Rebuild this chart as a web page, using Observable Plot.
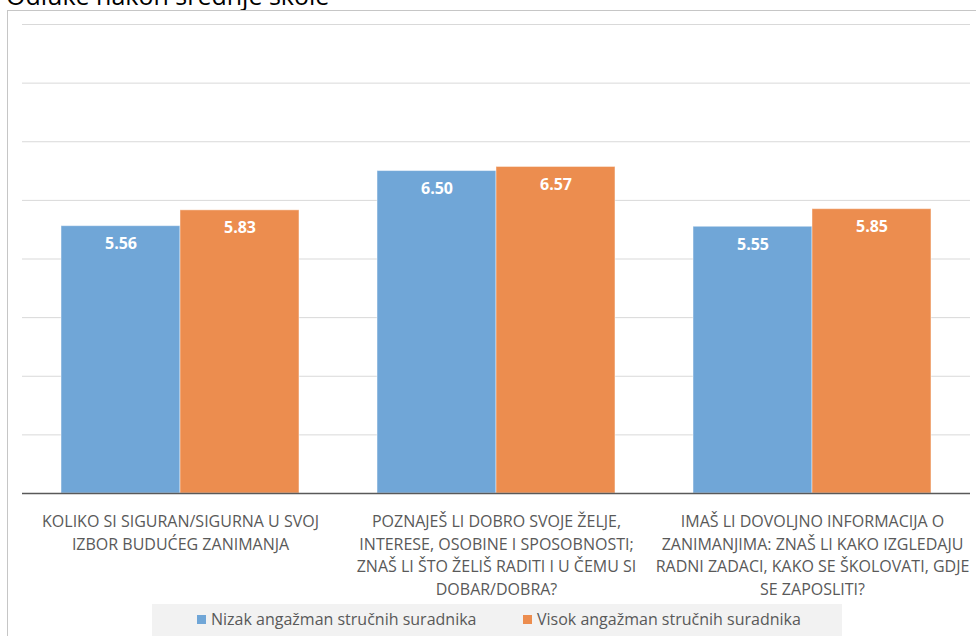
<!DOCTYPE html>
<html><head><meta charset="utf-8">
<script src="https://cdn.jsdelivr.net/npm/d3@7"></script>
<script src="https://cdn.jsdelivr.net/npm/@observablehq/plot@0.6"></script>
<style>
html,body{margin:0;padding:0;background:#fff;width:976px;height:636px;overflow:hidden;position:relative;font-family:"Open Sans",sans-serif;}
#title{position:absolute;left:6px;top:-22px;font-size:25px;line-height:34px;color:#000;white-space:nowrap;}
#chart{position:absolute;left:0;top:0;}
#frame{position:absolute;left:7px;top:10px;width:1000px;height:700px;border-left:1px solid #c6c6c6;border-top:1px solid #c6c6c6;pointer-events:none;}
#legend{position:absolute;left:152px;top:604px;width:690px;height:40px;background:#f2f2f2;}
#legend .sw{position:absolute;top:11px;width:9px;height:9px;}
#legend .lb{position:absolute;top:5px;font-size:16px;line-height:20px;color:#595959;white-space:nowrap;}
</style></head>
<body>
<div id="chart"></div>
<div id="title">Odluke nakon srednje škole</div>
<div id="frame"></div>
<div id="legend"></div>
<script>
const categories = ["kat1", "kat2", "kat3"];
const categoryLabels = [
  "KOLIKO SI SIGURAN/SIGURNA U SVOJ\nIZBOR BUDUĆEG ZANIMANJA",
  "POZNAJEŠ LI DOBRO SVOJE ŽELJE,\nINTERESE, OSOBINE I SPOSOBNOSTI;\nZNAŠ LI ŠTO ŽELIŠ RADITI I U ČEMU SI\nDOBAR/DOBRA?",
  "IMAŠ LI DOVOLJNO INFORMACIJA O\nZANIMANJIMA: ZNAŠ LI KAKO IZGLEDAJU\nRADNI ZADACI, KAKO SE ŠKOLOVATI, GDJE\nSE ZAPOSLITI?"
];
const series = ["Nizak angažman stručnih suradnika", "Visok angažman stručnih suradnika"];
const nizak = [5.56, 6.50, 5.55];
const visok = [5.83, 6.57, 5.85];
const colors = ["#70a6d7", "#ec8d4f"];
const yDomain = [1, 9];
const gridTicks = [2, 3, 4, 5, 6, 7, 8, 9];

const rows = [];
categories.forEach((c, i) => {
  rows.push({category: c, series: series[0], value: nizak[i]});
  rows.push({category: c, series: series[1], value: visok[i]});
});
const labelRows = categories.map((c, i) => ({category: c, label: categoryLabels[i]}));

const chart = Plot.plot({
  width: 976,
  height: 600,
  marginLeft: 22,
  marginRight: 6,
  marginTop: 24,
  marginBottom: 107,
  style: {fontFamily: "Open Sans", background: "transparent"},
  fx: {domain: categories, padding: 0, axis: null, round: false},
  x: {domain: series, paddingInner: 0, paddingOuter: 0.328, axis: null, round: false},
  y: {domain: yDomain, axis: null},
  color: {domain: series, range: colors},
  marks: [
    Plot.gridY(gridTicks, {stroke: "#d9d9d9", strokeOpacity: 1, strokeWidth: 1}),
    Plot.barY(rows, {fx: "category", x: "series", y1: yDomain[0], y2: "value", fill: "series", stroke: "white", strokeOpacity: 0.45, strokeWidth: 1}),
    Plot.ruleY([yDomain[0]], {stroke: "#595959", strokeWidth: 1.6}),
    Plot.text(rows, {fx: "category", x: "series", y: "value", text: d => d.value.toFixed(2), fill: "white", fontWeight: "bold", fontSize: 16, dy: 18}),
    Plot.text(labelRows, {fx: "category", text: "label", frameAnchor: "bottom", lineAnchor: "top", dy: 18, lineHeight: 1.4, fontSize: 16, fill: "#595959"})
  ]
});
document.getElementById("chart").appendChild(chart);

const legend = document.getElementById("legend");
const legendPos = [[45, 59], [371, 385]];
series.forEach((s, i) => {
  const sw = document.createElement("div");
  sw.className = "sw";
  sw.style.left = legendPos[i][0] + "px";
  sw.style.background = colors[i];
  legend.appendChild(sw);
  const lb = document.createElement("div");
  lb.className = "lb";
  lb.style.left = legendPos[i][1] + "px";
  lb.textContent = s;
  legend.appendChild(lb);
});
</script>
</body></html>
